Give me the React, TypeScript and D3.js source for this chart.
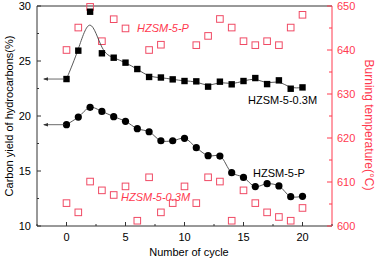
import { scaleLinear, line, curveBasis, curveCatmullRom, range } from "d3";

const totalWidth = 378;
const totalHeight = 260;
const margin = { left: 37, right: 46, top: 6, bottom: 34 };
const innerWidth = totalWidth - margin.left - margin.right;
const innerHeight = totalHeight - margin.top - margin.bottom;

const red = "#ff3a4f";
const markerRed = "#f04a64";
const font = "Arial, 'Liberation Sans', sans-serif";

const cycles = range(0, 21);
const yield03M = [
  23.36, 25.94, 29.48, 25.7, 25.3, 24.85, 24.27, 23.55, 23.5, 23.33, 23.18,
  23.15, 22.67, 23.12, 22.88, 23.18, 23.45, 22.9, 23.24, 22.48, 22.6,
];
const yieldP = [
  19.21, 19.9, 20.79, 20.42, 19.94, 19.52, 18.85, 18.57, 17.75, 17.75, 17.97,
  17.12, 16.39, 16.36, 14.85, 14.42, 13.58, 13.85, 13.64, 12.67, 12.7,
];
const tempP: (number | null)[] = [
  640, 645.1, 649.8, 642, 647, 644.9, null, 640, 641.2, null, null, 641.1,
  643.2, 647.05, 645.1, 642, 641.1, 642, 641.1, 645.1, 648,
];
const temp03M = [
  605.2, 603.1, 610.1, 608.1, 607.05, 609, 601.2, 611.07, 603.1, 605.2, 609,
  605.2, 611.07, 610.1, 601.2, 608.1, 605.2, 603.1, 602.05, 601.2, 604.1,
];
const xTicks = [0, 5, 10, 15, 20];
const xMinor = [-2.5, 2.5, 7.5, 12.5, 17.5, 22.5];
const yTicks = [10, 15, 20, 25, 30];
const yMinor = [12.5, 17.5, 22.5, 27.5];
const tTicks = [600, 610, 620, 630, 640, 650];
const tMinor = [605, 615, 625, 635, 645];

const xScale = scaleLinear().domain([-2.5, 22.5]).range([0, innerWidth]);
const yScale = scaleLinear().domain([10, 30]).range([innerHeight, 0]);
const tScale = scaleLinear().domain([600, 650]).range([innerHeight, 0]);

const pathFor = (vals: number[], curve: any) =>
  line<number>()
    .x((_, i) => xScale(cycles[i]))
    .y((v) => yScale(v))
    .curve(curve)(vals) ?? "";

const Arrow = ({ y }: { y: number }) => (
  <g>
    <line x1={7} x2={xScale(0) - 2} y1={y} y2={y} stroke="#444" strokeWidth={0.8} />
    <path d={`M6,${y} L11,${y - 1.8} L11,${y + 1.8} Z`} fill="#333" />
  </g>
);

export default function App() {
  return (
    <svg
      width={totalWidth}
      height={totalHeight}
      style={{ position: "absolute", left: 0, top: 0 }}
      fontFamily={font}
    >
      <g transform={`translate(${margin.left}, ${margin.top})`}>
        {/* frame */}
        <line x1={0} x2={innerWidth} y1={0} y2={0} stroke="#333" />
        <line x1={0} x2={innerWidth} y1={innerHeight} y2={innerHeight} stroke="#333" />
        <line x1={0} x2={0} y1={0} y2={innerHeight} stroke="#333" />
        <line x1={innerWidth} x2={innerWidth} y1={0} y2={innerHeight} stroke={red} />

        {/* x axis */}
        {xTicks.map((t) => (
          <g key={t}>
            <line x1={xScale(t)} x2={xScale(t)} y1={innerHeight} y2={innerHeight - 4} stroke="#333" />
            <text x={xScale(t)} y={innerHeight + 15} fontSize={11} textAnchor="middle">
              {t}
            </text>
          </g>
        ))}
        {xMinor.map((t) => (
          <line key={t} x1={xScale(t)} x2={xScale(t)} y1={innerHeight} y2={innerHeight - 2} stroke="#333" />
        ))}
        <text x={152} y={innerHeight + 30} fontSize={11} textAnchor="middle">
          Number of cycle
        </text>

        {/* left axis */}
        {yTicks.map((t) => (
          <g key={t}>
            <line x1={0} x2={4} y1={yScale(t)} y2={yScale(t)} stroke="#333" />
            <text x={-6} y={yScale(t) + 4} fontSize={11} textAnchor="end">
              {t}
            </text>
          </g>
        ))}
        {yMinor.map((t) => (
          <line key={t} x1={0} x2={2} y1={yScale(t)} y2={yScale(t)} stroke="#333" />
        ))}
        <text
          transform={`translate(-24, ${innerHeight / 2}) rotate(-90)`}
          fontSize={11}
          textAnchor="middle"
        >
          Carbon yield of hydrocarbons(%)
        </text>

        {/* right axis */}
        {tTicks.map((t) => (
          <g key={t}>
            <line x1={innerWidth - 5} x2={innerWidth} y1={tScale(t)} y2={tScale(t)} stroke={red} />
            <text x={innerWidth + 5} y={tScale(t) + 4} fontSize={11} fill={red}>
              {t}
            </text>
          </g>
        ))}
        {tMinor.map((t) => (
          <line key={t} x1={innerWidth - 3} x2={innerWidth} y1={tScale(t)} y2={tScale(t)} stroke={red} />
        ))}
        <text
          transform={`translate(${innerWidth + 33}, ${innerHeight / 2 + 9}) rotate(90)`}
          fontSize={12}
          textAnchor="middle"
          fill={red}
        >
          Burning temperature(°C)
        </text>
      </g>

      <g transform={`translate(${margin.left}, ${margin.top})`}>
        {/* red temperature markers */}
        {tempP.map((v, i) =>
          v === null ? null : (
            <rect
              key={`tp${i}`}
              x={xScale(cycles[i]) - 3.3}
              y={tScale(v) - 3.3}
              width={6.6}
              height={6.6}
              fill="none"
              stroke={markerRed}
              strokeWidth={1}
            />
          ),
        )}
        {temp03M.map((v, i) => (
          <rect
            key={`tm${i}`}
            x={xScale(cycles[i]) - 3.3}
            y={tScale(v) - 3.3}
            width={6.6}
            height={6.6}
            fill="none"
            stroke={markerRed}
            strokeWidth={1}
          />
        ))}

        {/* carbon yield lines */}
        <path d={pathFor(yield03M, curveBasis)} fill="none" stroke="#444" strokeWidth={0.9} />
        <path d={pathFor(yieldP, curveCatmullRom)} fill="none" stroke="#444" strokeWidth={0.9} />
        {yield03M.map((v, i) => (
          <rect key={`s${i}`} x={xScale(cycles[i]) - 3.2} y={yScale(v) - 3.2} width={6.4} height={6.4} fill="#000" />
        ))}
        {yieldP.map((v, i) => (
          <circle key={`c${i}`} cx={xScale(cycles[i])} cy={yScale(v)} r={3.6} fill="#000" />
        ))}

        <Arrow y={yScale(yield03M[0])} />
        <Arrow y={yScale(yieldP[0])} />

        {/* labels */}
        <text x={100} y={26} fontSize={11} fill={red} fontStyle="italic">
          HZSM-5-P
        </text>
        <text x={211} y={98} fontSize={11}>
          HZSM-5-0.3M
        </text>
        <text x={216} y={171} fontSize={11}>
          HZSM-5-P
        </text>
        <text x={84} y={195} fontSize={11} fill={red} fontStyle="italic">
          HZSM-5-0.3M
        </text>
      </g>
    </svg>
  );
}
